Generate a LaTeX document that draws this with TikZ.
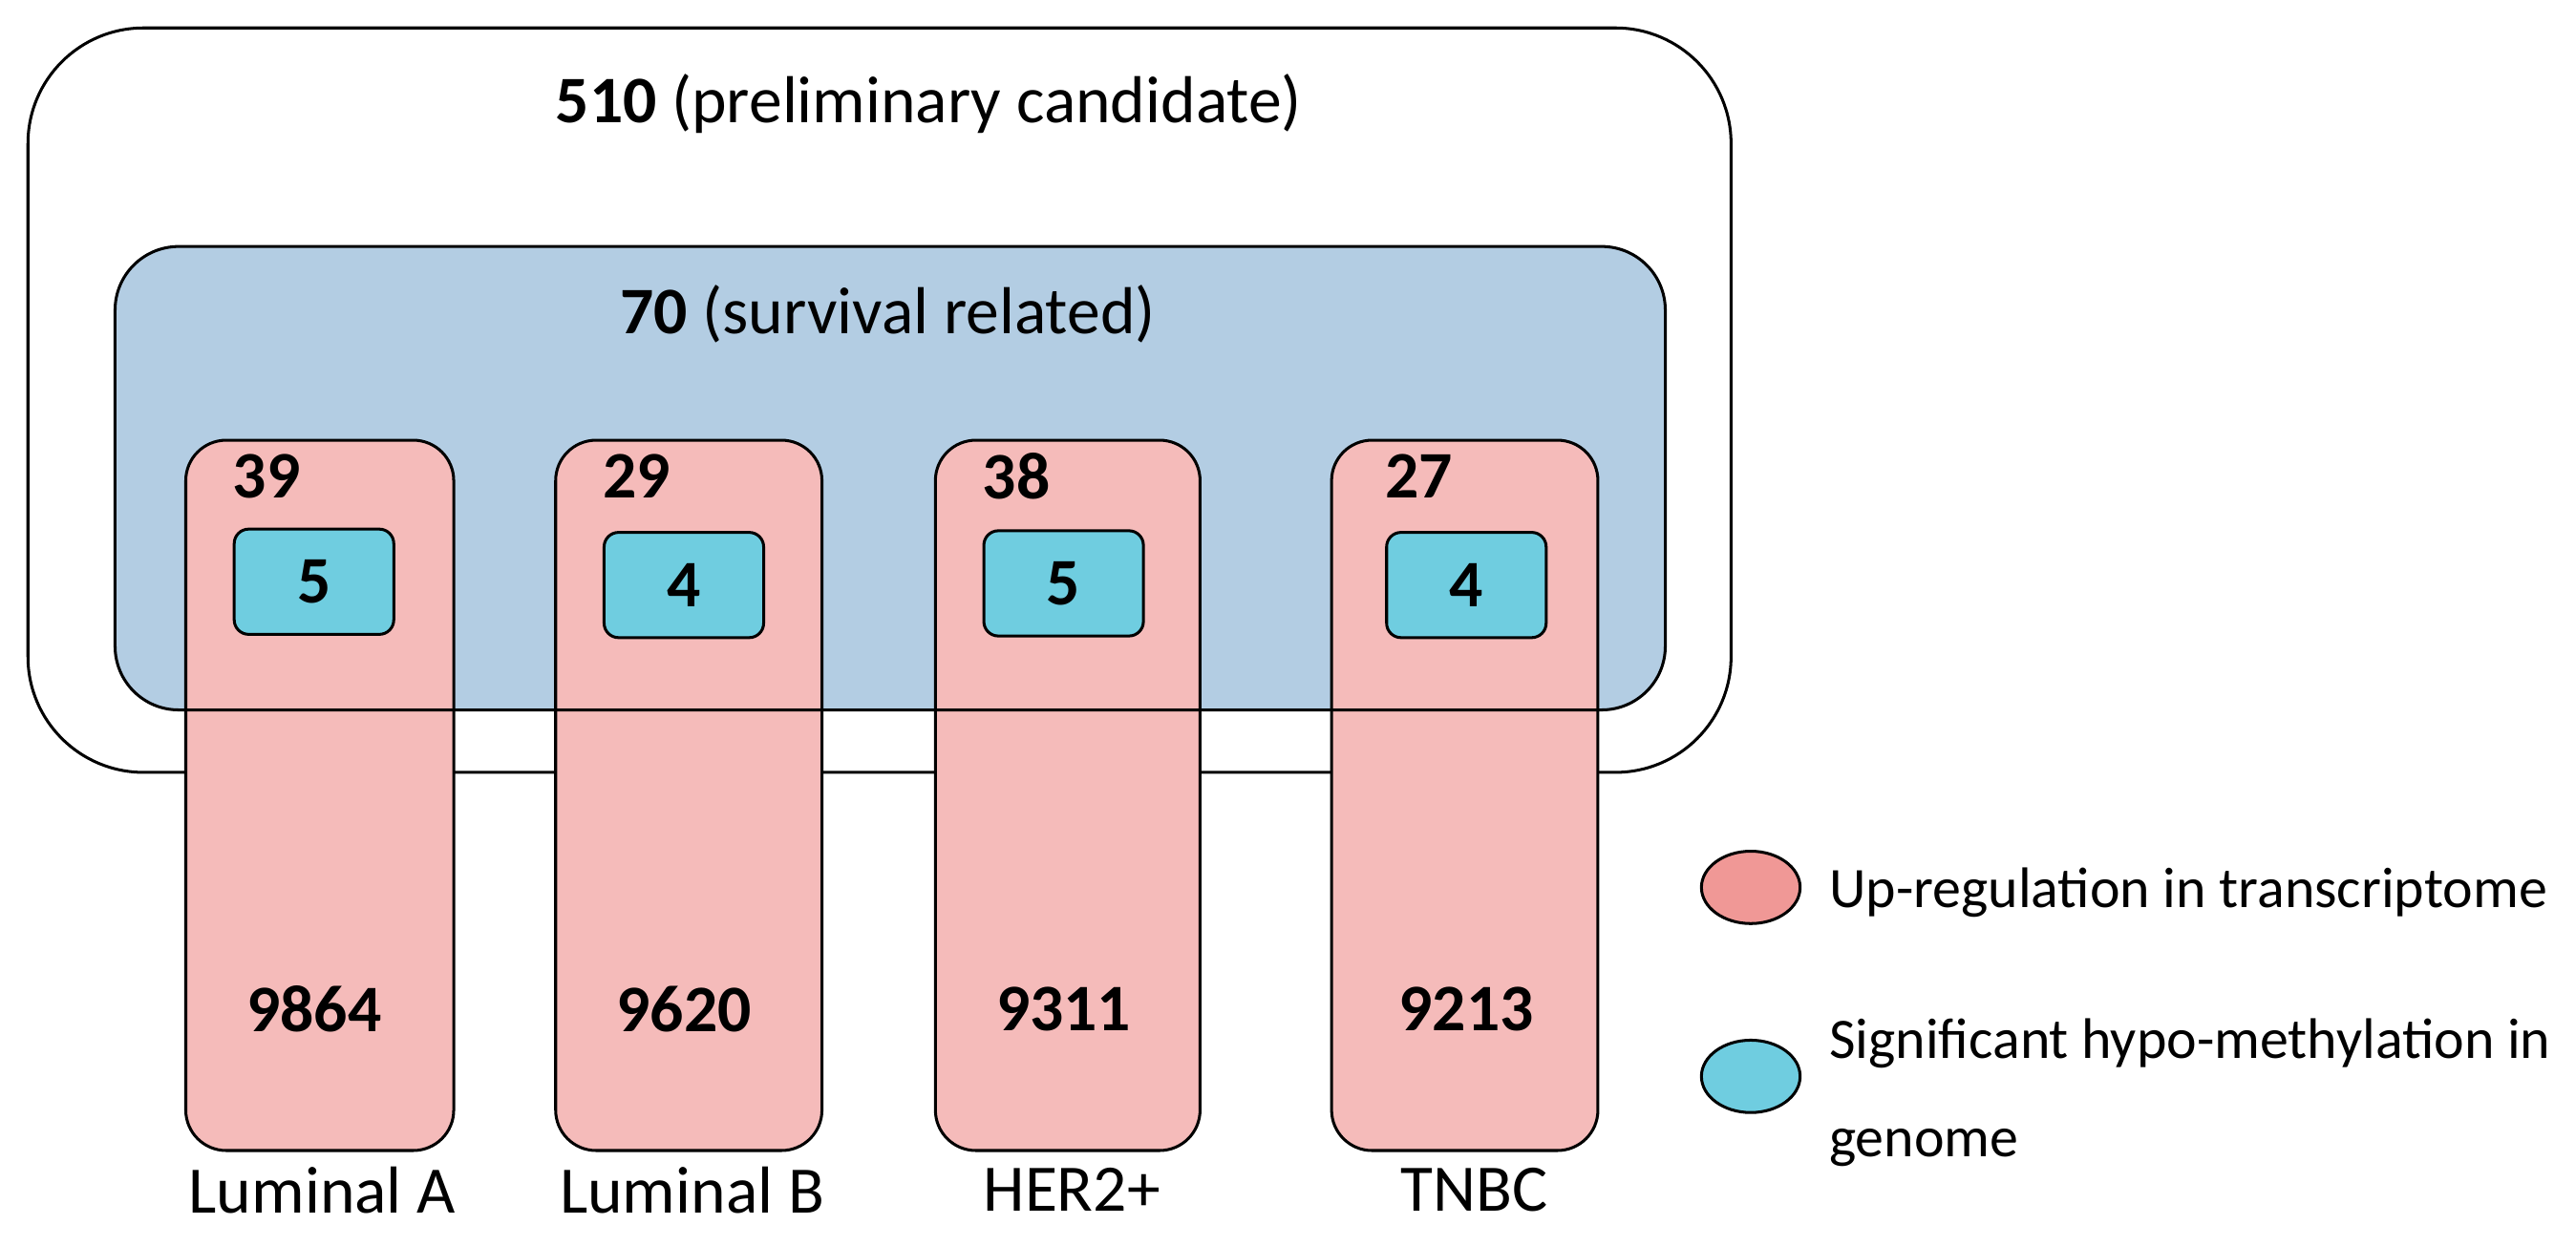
\documentclass[tikz,border=0pt]{standalone}
\usepackage{fontspec}
\setmainfont{Carlito}
\usetikzlibrary{shapes.geometric}
\begin{document}
\begin{tikzpicture}[x=0.01cm,y=-0.01cm,
  txt/.style={font=\fontsize{11.5pt}{13pt}\selectfont,inner sep=0pt},
  ltxt/.style={font=\fontsize{9.9pt}{12pt}\selectfont,inner sep=0pt},
  bnum/.style={txt,font=\fontsize{11.5pt}{13pt}\selectfont\bfseries},
  pinkcol/.style={draw=black,line width=0.5pt,fill=pinkc,rounded corners=7pt},
  cyanbox/.style={draw=black,line width=0.5pt,fill=cyanc,rounded corners=2.5pt}]
\definecolor{pinkc}{RGB}{245,187,186}
\definecolor{bluec}{RGB}{179,205,227}
\definecolor{cyanc}{RGB}{111,205,224}
\definecolor{pinkl}{RGB}{240,152,150}
\useasboundingbox (0,0) rectangle (1567,758);
\draw[line width=0.5pt,rounded corners=20pt] (17,17) rectangle (1053,470);
\fill[bluec,rounded corners=11pt] (70,150) rectangle (1013,432);
\foreach \n/\xa/\xb in {a/113/276,b/338/500,c/569/730,d/810/972}{
  \node[pinkcol,minimum width={(\xb-\xa)*0.01cm},minimum height=4.32cm,inner sep=0pt] (col\n) at ({(\xa+\xb)/2},484) {};
}
\draw[line width=0.5pt,rounded corners=11pt] (70,150) rectangle (1013,432);
\node[txt] (t510) at (565,63) {\textbf{510} (preliminary candidate)};
\node[txt] (t70) at (540,191) {\textbf{70} (survival related)};
\foreach \n/\cx/\cy/\top/\mid/\bot/\lab in {a/191/354/39/5/9864/Luminal A,b/416/356/29/4/9620/Luminal B,c/647/355/38/5/9311/HER2+,d/892/356/27/4/9213/TNBC}{
  \node[cyanbox,minimum width=0.97cm,minimum height=0.64cm] (cy\n) at (\cx,\cy) {};
  \node[bnum] at (cy\n) {\mid};
  \node[bnum,anchor=west] (tp\n) at ({\cx-50},290) {\top};
  \node[bnum] (bt\n) at (\cx,614) {\bot};
  \node[txt] (lb\n) at ({\cx+5},724) {\lab};
}
\node[draw=black,line width=0.5pt,fill=pinkl,ellipse,minimum width=0.6cm,minimum height=0.44cm,inner sep=0pt] (lp) at (1065,540) {};
\node[ltxt,anchor=west] (lpt) at (1112,543) {Up-regulation in transcriptome};
\node[draw=black,line width=0.5pt,fill=cyanc,ellipse,minimum width=0.6cm,minimum height=0.44cm,inner sep=0pt] (lc) at (1065,655) {};
\node[ltxt,anchor=west,align=left] (lct) at (1112,665) {Significant hypo-methylation in\\[5pt]genome};
\end{tikzpicture}
\end{document}
